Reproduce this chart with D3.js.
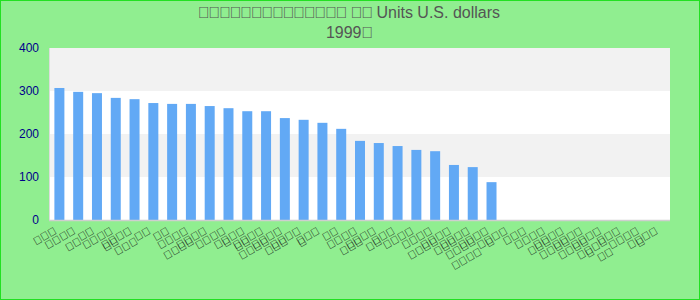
<!DOCTYPE html>
<html><head><meta charset="utf-8">
<script src="https://cdn.jsdelivr.net/npm/d3@7/dist/d3.min.js"></script>
<style>html,body{margin:0;padding:0;background:#90ee90;overflow:hidden}svg{display:block}</style>
</head><body><svg id="c" width="700" height="300"></svg>
<script>
// Text in the reference is shown only as missing-glyph boxes (unreadable glyphs).
const B = "\uE000";
const titleParts = [
  [[B.repeat(14), true], [" ", false], [B.repeat(2), true], [" Units U.S. dollars", false]],
  [["1999", false], [B, true]]
];
const categories = [
  "▯▯▯", "▯▯▯▯▯▯", "▯▯", "▯▯▯▯▯▯", "▯▯▯▯▯▯▯", "▯▯", "▯▯", "▯▯▯▯▯▯▯▯",
  "▯▯▯▯", "▯▯▯▯▯", "▯▯▯▯▯▯", "▯▯▯▯▯▯▯▯", "▯▯▯▯▯▯▯", "▯▯▯▯▯", "▯▯▯", "▯▯",
  "▯▯▯▯▯▯▯", "▯▯▯▯▯▯", "▯▯▯", "▯▯▯▯", "▯▯▯▯▯▯▯▯", "▯▯▯▯▯▯▯", "▯▯▯▯▯▯▯▯▯▯▯▯", "▯▯▯▯▯",
  "▯▯▯▯", "▯▯▯", "▯▯▯▯▯▯▯", "▯▯▯▯▯▯▯▯", "▯▯▯▯▯▯▯▯▯", "▯▯▯▯▯▯▯▯▯▯", "▯▯▯", "▯▯▯▯▯", "▯▯▯▯"
].map(s => s.replace(/▯/g, B));
const values = [307, 298, 295, 284, 281, 272, 270, 270, 265, 260, 253, 253, 237, 233, 226, 212, 184, 179, 172, 163, 160, 128, 123, 88];
const yTicks = [0, 100, 200, 300, 400];

const W = 700, H = 300;
const M = {left: 50, right: 30, top: 48, bottom: 80};
const svg = d3.select("#c");

svg.append("rect").attr("x", 0.5).attr("y", 0.5).attr("width", W - 1).attr("height", H - 1)
  .attr("fill", "#90ee90").attr("stroke", "#22e022").attr("stroke-width", 1);

const x = d3.scaleBand().domain(d3.range(categories.length))
  .range([M.left, W - M.right]).paddingInner(0.468).paddingOuter(0.234);
const y = d3.scaleLinear().domain([0, 400]).range([H - M.bottom, M.top]);

svg.append("rect").attr("x", M.left).attr("y", M.top)
  .attr("width", W - M.left - M.right).attr("height", H - M.top - M.bottom).attr("fill", "#fff");
svg.append("g").selectAll("rect").data(d3.pairs(yTicks)).join("rect")
  .attr("x", M.left).attr("width", W - M.left - M.right)
  .attr("y", d => y(d[1])).attr("height", d => y(d[0]) - y(d[1]))
  .attr("fill", (d, i) => i % 2 ? "#f2f2f2" : "#ffffff");

svg.append("g").selectAll("rect").data(values).join("rect")
  .attr("x", (d, i) => x(i)).attr("width", x.bandwidth())
  .attr("y", d => y(d)).attr("height", d => y(0) - y(d))
  .attr("fill", "#62a9f5");

svg.append("line").attr("x1", M.left - 0.5).attr("x2", M.left - 0.5).attr("y1", M.top).attr("y2", y(0))
  .attr("stroke", "#dcdcdc");
svg.append("line").attr("x1", M.left - 1).attr("x2", W - M.right).attr("y1", y(0) + 0.5).attr("y2", y(0) + 0.5)
  .attr("stroke", "#cfcfcf").attr("stroke-width", 1.5);

const yAxis = svg.append("g").attr("transform", `translate(${M.left},0)`)
  .call(d3.axisLeft(y).tickValues(yTicks).tickSize(0).tickPadding(11));
yAxis.select(".domain").remove();
yAxis.selectAll("text").attr("fill", "#00008b")
  .style("font-family", "'Liberation Sans', Arial, sans-serif").style("font-size", "12px");

const labelG = svg.append("g");
categories.forEach((s, i) => {
  const lines = [];
  for (let k = 0; k < s.length; k += 4) lines.push(s.slice(k, k + 4));
  const g = labelG.append("g")
    .attr("transform", `translate(${x(i) + x.bandwidth() / 2 - 2},${y(0) + 13}) rotate(-30)`);
  const t = g.append("text").attr("text-anchor", "end")
    .style("font-family", "'Liberation Sans', Arial, sans-serif").style("font-size", "11px")
    .attr("fill", "#111");
  lines.forEach((ln, k) => t.append("tspan").attr("x", 0).attr("y", k * 12).text(ln));
});

svg.append("g").selectAll("text").data(titleParts).join("text")
  .attr("x", 349).attr("y", (d, i) => 18 + i * 20)
  .attr("text-anchor", "middle")
  .style("font-family", "'Liberation Sans', Arial, sans-serif").style("font-size", "16px")
  .attr("fill", "#555")
  .each(function(parts) {
    const t = d3.select(this);
    parts.forEach(([s, box]) => {
      const sp = t.append("tspan").text(s);
      if (box) sp.style("letter-spacing", "-1.4px");
    });
  });
</script></body></html>
